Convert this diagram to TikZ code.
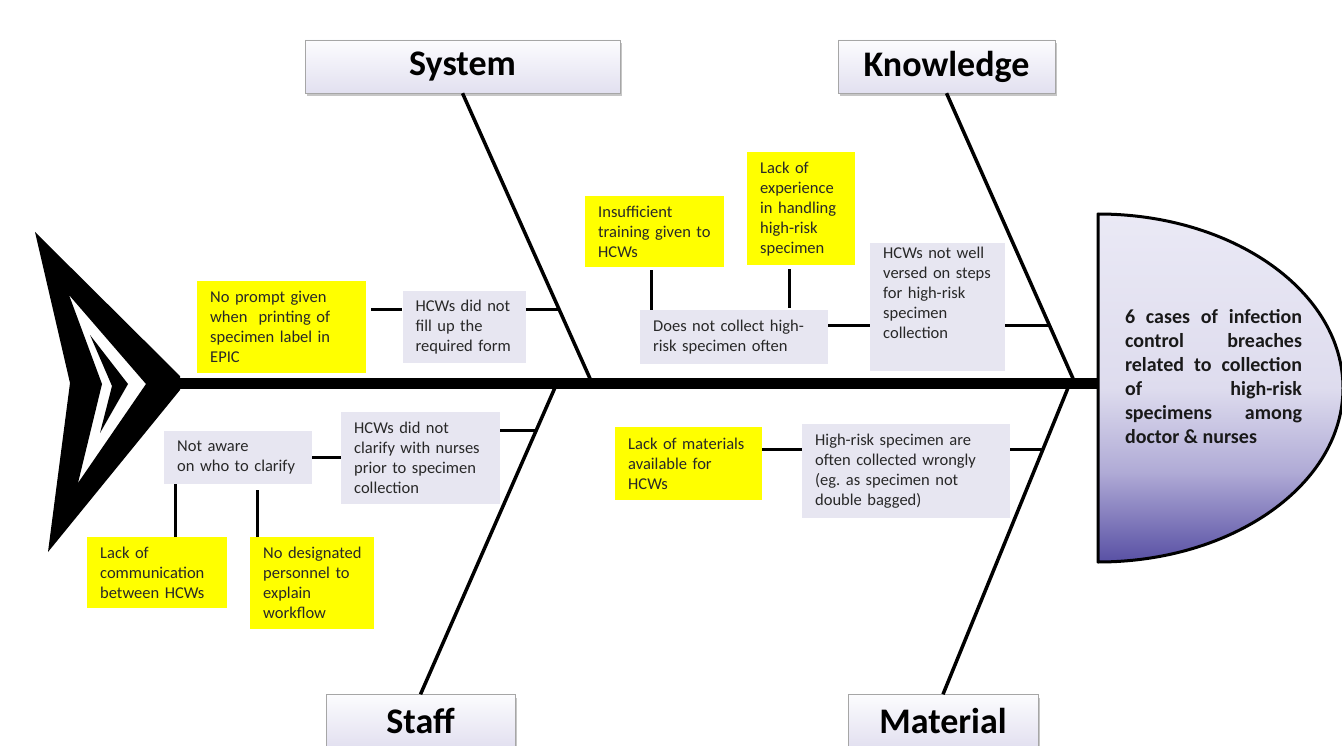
\documentclass[tikz,border=0pt]{standalone}
\usepackage{fontspec}
\setmainfont{Carlito}
\usetikzlibrary{positioning,shadows,calc}

\definecolor{yel}{RGB}{255,255,0}
\definecolor{lav}{RGB}{231,230,241}
\definecolor{txt}{RGB}{40,40,40}
\definecolor{htop}{RGB}{234,233,245}
\definecolor{hmid}{RGB}{222,220,238}
\definecolor{hlow}{RGB}{176,171,214}
\definecolor{hbot}{RGB}{88,80,164}
\definecolor{cattop}{RGB}{252,252,254}
\definecolor{catbot}{RGB}{226,224,240}

\pgfdeclareverticalshading{headshade}{100bp}{color(0bp)=(hbot); color(25bp)=(hbot); color(38bp)=(hlow); color(50bp)=(hmid); color(75bp)=(htop); color(100bp)=(htop)}

\begin{document}
\begin{tikzpicture}[x=1pt,y=-1pt,
    cat/.style={draw=gray!70,top color=cattop,bottom color=catbot,
        drop shadow={shadow xshift=2pt,shadow yshift=-3pt,opacity=.45},
        minimum height=53pt,inner sep=0pt,font=\fontsize{36}{40}\selectfont\bfseries},
    cause/.style={anchor=north west,inner xsep=13pt,inner ysep=4pt,align=left,text=txt,
        font=\fontsize{16.5}{20}\selectfont,execute at begin node={\hyphenpenalty=10000\relax}},
    why/.style={cause,fill=lav},
    root/.style={cause,fill=yel},
    bone/.style={line width=3.5pt},
    link/.style={line width=3pt}]

\useasboundingbox (0,0) rectangle (1342,746);

%Tail and spine=========================================================
\fill[even odd rule] (35,232) -- (180,376) -- (180,390) -- (48,552) -- (70,383) -- cycle
    (69,295) -- (146,384) -- (78,483) -- (102,384) -- cycle;
\fill (90,335) -- (128,384) -- (100,433) -- (112,386) -- cycle;
\coordinate (tl) at (176,383);
\coordinate (hd) at (1099,383);
\draw[line width=11pt] (tl) -- (hd);

%Head===================================================================
\fill[shading=headshade] (1098,562) arc[start angle=-90,end angle=90,x radius=245pt,y radius=174pt] -- cycle;
\draw[line width=3pt,line join=round] (1098,562) arc[start angle=-90,end angle=90,x radius=245pt,y radius=174pt] -- cycle;
\node[text width=177pt,align=justify,text=black!90,font=\fontsize{20}{24}\selectfont\bfseries] (0) at (1213.5,377)
    {6 cases of infection\linebreak control breaches\linebreak related to collection\linebreak of high-risk\linebreak specimens among\linebreak doctor \& nurses};

%System=================================================================
\node[cat,minimum width=315pt] (1) at (462.5,66.5) {System};
\coordinate (s1) at (592,383);
\node[root,text width=143pt,minimum height=92pt] (5) at (197,281) {No prompt given\\when~ printing of\\specimen label in\\EPIC};
\node[why,text width=97pt,minimum height=72pt,right=36pt of 5] (6) {HCWs did not\\fill up the\\required form};
\draw[bone] (1.south) -- (s1);
\coordinate (c6) at ($(1.south)!.745!(s1)$);
\draw[link,shorten <=5pt] (5.east |- c6) -- (6.west |- c6);
\draw[link] (6.east |- c6) -- (c6);

%Knowledge==============================================================
\node[cat,minimum width=217pt] (2) at (946.5,66.5) {Knowledge};
\coordinate (k1) at (1075,383);
\node[root,text width=113pt,minimum height=71pt] (7) at (585,196) {Insufficient\\training given to\\HCWs};
\node[root,text width=82pt,minimum height=113pt] (8) at (747,152) {Lack of\\experience\\in handling\\high-risk\\specimen};
\node[why,text width=162pt,minimum height=54pt] (9) at (640,310) {Does not collect high-\\risk specimen often};
\node[why,text width=109pt,text depth=108pt] (10) at (870,243) {HCWs not well\\versed on steps\\for high-risk\\specimen\\collection};
\draw[bone] (2.south) -- (k1);
\coordinate (c10) at ($(2.south)!.8!(k1)$);
\draw[link,shorten <=3pt] ([xshift=-3pt]7.south) -- ([xshift=-3pt]7.south |- 9.north);
\draw[link,shorten <=4pt,shorten >=2pt] ([xshift=-12pt]8.south) -- ([xshift=-12pt]8.south |- 9.north);
\draw[link] (9.east |- c10) -- (10.west |- c10);
\draw[link] (10.east |- c10) -- (c10);

%Staff==================================================================
\node[cat,minimum width=189pt] (3) at (420.5,721) {Staff};
\coordinate (t1) at (557,383);
\node[why,text width=122pt,minimum height=53pt] (11) at (164,431) {Not aware\\on who to clarify};
\node[why,text width=133pt,minimum height=92pt] (12) at (341,412) {HCWs did not\\clarify with nurses\\prior to specimen\\collection};
\node[root,text width=114pt,minimum height=71pt] (13) at (87,537) {Lack of\\communication\\between HCWs};
\node[root,text width=98pt,minimum height=92pt] (14) at (250,537) {\mbox{No designated}\\personnel to\\explain\\workflow};
\draw[bone] (t1) -- (3.north);
\coordinate (c12) at ($(t1)!.151!(3.north)$);
\draw[link] (11.east) -- (11.east -| 12.west);
\draw[link] (12.east |- c12) -- (c12);
\draw[link] ([xshift=18pt]13.north) -- ([xshift=18pt]13.north |- 11.south);
\draw[link,shorten >=6pt] ([xshift=-55pt]14.north) -- ([xshift=-55pt]14.north |- 11.south);

%Material===============================================================
\node[cat,minimum width=190pt] (4) at (943,721) {Material};
\coordinate (m1) at (1070,383);
\node[root,text width=121pt,minimum height=73pt] (15) at (615,427) {Lack of materials\\available for\\HCWs};
\node[why,text width=182pt,minimum height=94pt] (16) at (802,424) {High-risk specimen are\\often collected wrongly\\(eg.\ as specimen not\\double bagged)};
\draw[bone] (m1) -- (4.north);
\coordinate (c16) at ($(m1)!.215!(4.north)$);
\draw[link] (15.east |- c16) -- (16.west |- c16);
\draw[link] (16.east |- c16) -- (c16);

\end{tikzpicture}
\end{document}
